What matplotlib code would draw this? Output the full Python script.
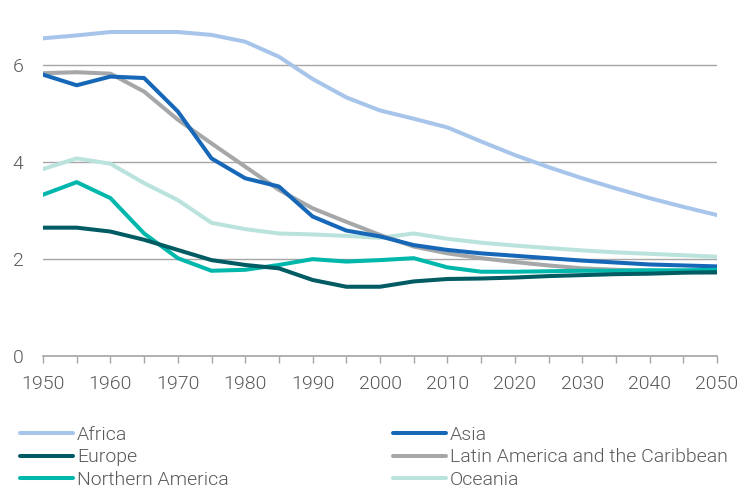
import matplotlib.pyplot as plt

plt.rcParams['font.family'] = ['Roboto', 'DejaVu Sans']
plt.rcParams['font.weight'] = 300

years = list(range(1950, 2051, 5))

africa = [6.56, 6.62, 6.69, 6.69, 6.69, 6.63, 6.49, 6.18, 5.72, 5.34, 5.07,
          4.90, 4.72, 4.43, 4.15, 3.90, 3.67, 3.46, 3.26, 3.08, 2.91]
asia = [5.81, 5.59, 5.77, 5.74, 5.05, 4.08, 3.67, 3.50, 2.88, 2.59, 2.47,
        2.29, 2.19, 2.12, 2.07, 2.02, 1.97, 1.93, 1.89, 1.87, 1.85]
europe = [2.65, 2.65, 2.57, 2.40, 2.19, 1.98, 1.88, 1.81, 1.57, 1.43, 1.43,
          1.54, 1.59, 1.60, 1.62, 1.65, 1.67, 1.69, 1.70, 1.72, 1.73]
latin_america = [5.84, 5.86, 5.83, 5.46, 4.88, 4.39, 3.91, 3.43, 3.05, 2.77, 2.50,
                 2.26, 2.12, 2.02, 1.94, 1.87, 1.81, 1.78, 1.76, 1.74, 1.72]
northern_america = [3.33, 3.59, 3.26, 2.53, 2.02, 1.76, 1.78, 1.88, 2.00, 1.95, 1.98,
                    2.02, 1.83, 1.74, 1.74, 1.75, 1.76, 1.76, 1.77, 1.77, 1.78]
oceania = [3.86, 4.08, 3.97, 3.57, 3.22, 2.75, 2.62, 2.53, 2.51, 2.48, 2.44,
           2.53, 2.42, 2.34, 2.28, 2.23, 2.18, 2.14, 2.11, 2.08, 2.05]

series = [
    ('Africa', africa, '#a7c5ea'),
    ('Asia', asia, '#1667b7'),
    ('Europe', europe, '#005b63'),
    ('Latin America and the Caribbean', latin_america, '#a5a7a9'),
    ('Northern America', northern_america, '#00b7ab'),
    ('Oceania', oceania, '#bae3de'),
]
text_col = '#58595b'

fig = plt.figure(figsize=(7.44, 4.88), dpi=100)
ax = fig.add_axes([43 / 744, 1 - 356 / 488, 674 / 744, 339 / 488])

# later names are drawn on top
order = ['Africa', 'Oceania', 'Latin America and the Caribbean', 'Asia',
         'Northern America', 'Europe']
handles = {}
for name, vals, col in series:
    line, = ax.plot(years, vals, color=col, lw=2.9, solid_capstyle='round',
                    zorder=3 + order.index(name))
    handles[name] = line

ax.set_xlim(1950, 2050)
ax.set_ylim(0, 7)
ax.set_yticks([0, 2, 4, 6])
ax.set_xticks(range(1950, 2051, 10))
ax.set_xticks(range(1950, 2051, 5), minor=True)
ax.grid(axis='y', color='#a6a6a6', lw=1)
for s in ['top', 'right', 'left']:
    ax.spines[s].set_visible(False)
ax.spines['bottom'].set_color('#a6a6a6')
ax.spines['bottom'].set_linewidth(1.2)
ax.tick_params(axis='y', length=0, pad=14, labelsize=14, labelcolor=text_col)
ax.tick_params(axis='x', which='both', length=5, color='#a6a6a6', width=1,
               pad=9, labelsize=14, labelcolor=text_col)

# two legend columns, placed separately
for names, x0 in [(['Africa', 'Europe', 'Northern America'], 20),
                  (['Asia', 'Latin America and the Caribbean', 'Oceania'], 393)]:
    leg = fig.legend([handles[n] for n in names], names, loc='upper left',
                     bbox_to_anchor=(x0 / 744, 1 - 426 / 488), frameon=False,
                     fontsize=14, handlelength=2.73, handletextpad=0.2,
                     labelspacing=0.23, borderaxespad=0, borderpad=0)
    for t in leg.get_texts():
        t.set_color(text_col)

fig.savefig('out.png', dpi=100)
